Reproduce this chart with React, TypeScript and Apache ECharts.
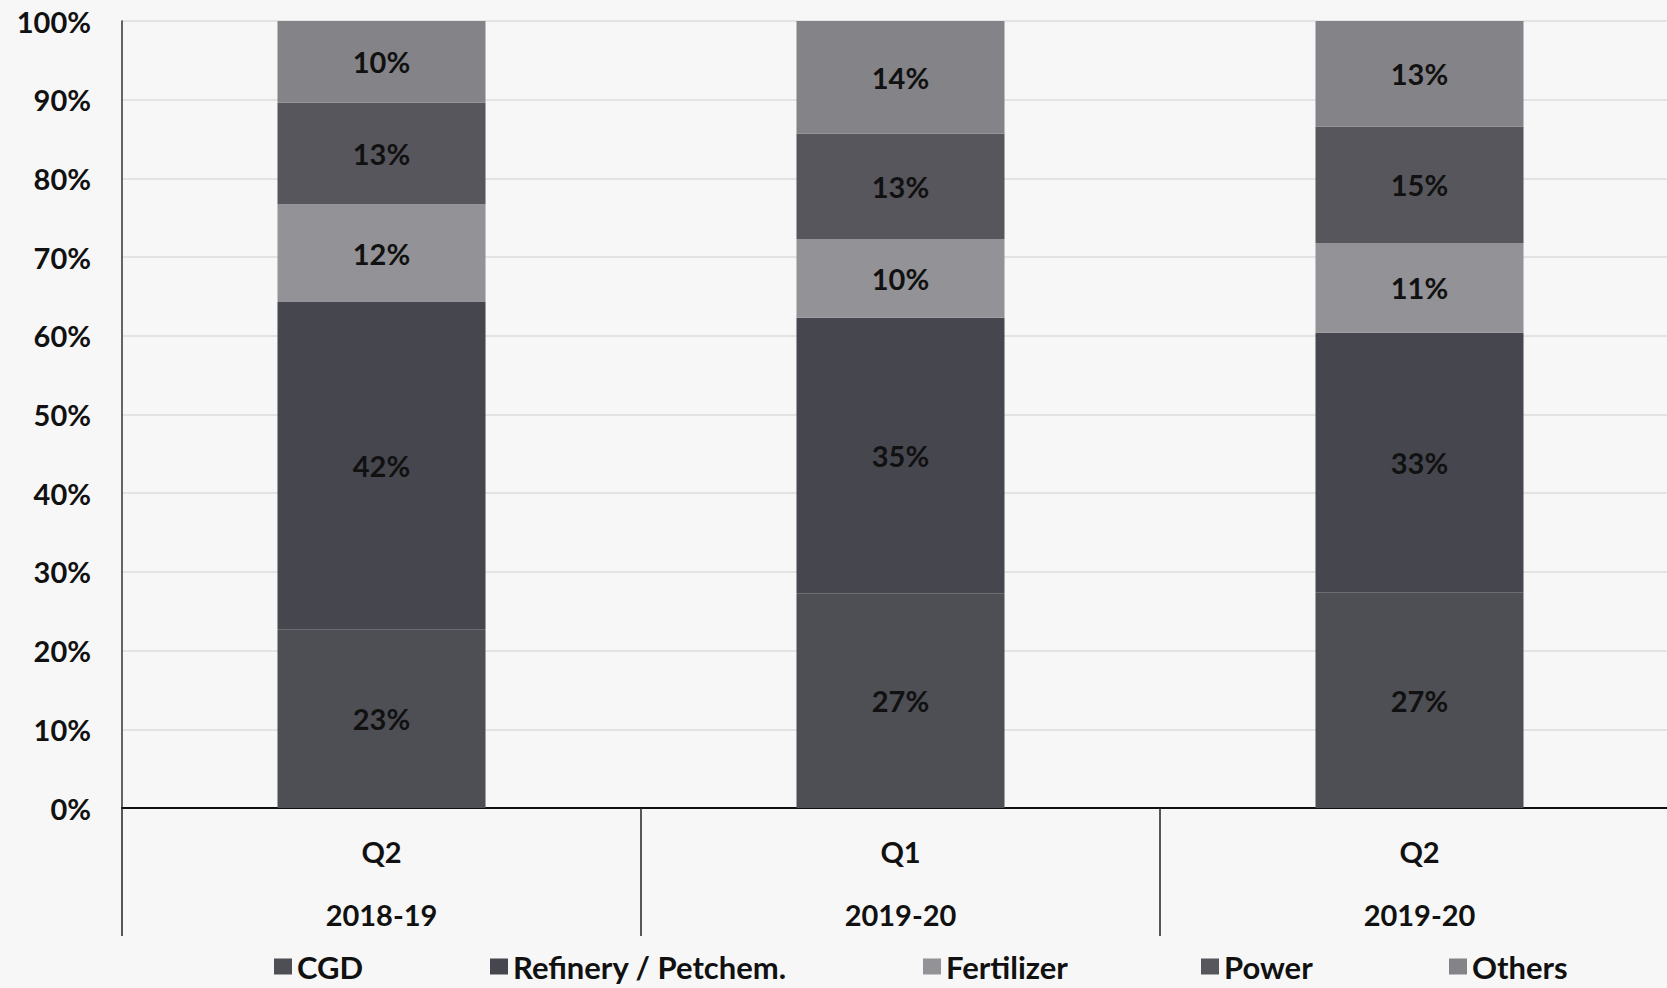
import React, { useEffect, useRef } from "react";
import * as echarts from "echarts";

const quarters = ["Q2", "Q1", "Q2"];
const years = ["2018-19", "2019-20", "2019-20"];
const yTicks = [0, 10, 20, 30, 40, 50, 60, 70, 80, 90, 100];

const seriesNames = ["CGD", "Refinery / Petchem.", "Fertilizer", "Power", "Others"];
const cgd = [22.7, 27.3, 27.4];
const refinery = [41.6, 35.0, 33.0];
const fertilizer = [12.4, 10.0, 11.4];
const power = [12.9, 13.4, 14.8];
const others = [10.4, 14.3, 13.4];
const seriesValues = [cgd, refinery, fertilizer, power, others];

const colors = ["#4e4e55", "#45464e", "#929297", "#56565c", "#838388"];
const legendLeft = [274, 490, 923, 1201, 1449];

const FONT = "Lato, 'Noto Sans', sans-serif";
const FS = 29;

export default function App() {
  const ref = useRef<HTMLDivElement>(null);
  useEffect(() => {
    if (!ref.current) return;
    const chart = echarts.init(ref.current, null, { renderer: "svg" });
    chart.setOption({
      animation: false,
      backgroundColor: "#f7f7f7",
      textStyle: { fontFamily: FONT },
      grid: { left: 122, right: 0, top: 21, bottom: 180, containLabel: false },
      legend: seriesNames.map((n, i) => ({
        data: [n],
        left: legendLeft[i],
        top: 951,
        icon: "rect",
        itemWidth: 18,
        itemHeight: 16,
        padding: 0,
        textStyle: { fontFamily: FONT, fontWeight: "bold", fontSize: 31, color: "#111" },
      })),
      xAxis: [
        {
          type: "category",
          data: quarters,
          position: "bottom",
          axisLine: { show: true, lineStyle: { color: "#111", width: 2 } },
          axisTick: { show: true, length: 128, lineStyle: { color: "#222", width: 1.5 } },
          axisLabel: { margin: 29, fontFamily: FONT, fontWeight: "bold", fontSize: FS, color: "#111" },
        },
        {
          type: "category",
          data: years,
          position: "bottom",
          axisLine: { show: false },
          axisTick: { show: false },
          axisLabel: { margin: 92, fontFamily: FONT, fontWeight: "bold", fontSize: FS, color: "#111" },
        },
      ],
      yAxis: {
        type: "value",
        min: yTicks[0],
        max: yTicks[yTicks.length - 1],
        interval: 10,
        axisLine: { show: true, lineStyle: { color: "#333", width: 1.5 } },
        axisTick: { show: false },
        splitLine: { lineStyle: { color: "#dcdcdc", width: 1.5 } },
        axisLabel: {
          margin: 31,
          fontFamily: FONT,
          fontWeight: "bold",
          fontSize: FS,
          color: "#111",
          formatter: (v: number) => v + "%",
        },
      },
      series: seriesNames.map((n, i) => ({
        name: n,
        type: "bar",
        stack: "total",
        xAxisIndex: 0,
        barWidth: 208,
        data: seriesValues[i],
        itemStyle: { color: colors[i] },
        label: {
          show: true,
          position: "inside",
          fontFamily: FONT,
          fontWeight: "bold",
          fontSize: FS,
          color: "#111",
          formatter: (p: any) => Math.round(p.value) + "%",
        },
      })),
    });
    return () => chart.dispose();
  }, []);
  return (
    <div
      style={{ position: "fixed", left: 0, top: 0, width: 1667, height: 988, overflow: "hidden" }}
    >
      <div ref={ref} style={{ width: 1679, height: 988 }} />
    </div>
  );
}
